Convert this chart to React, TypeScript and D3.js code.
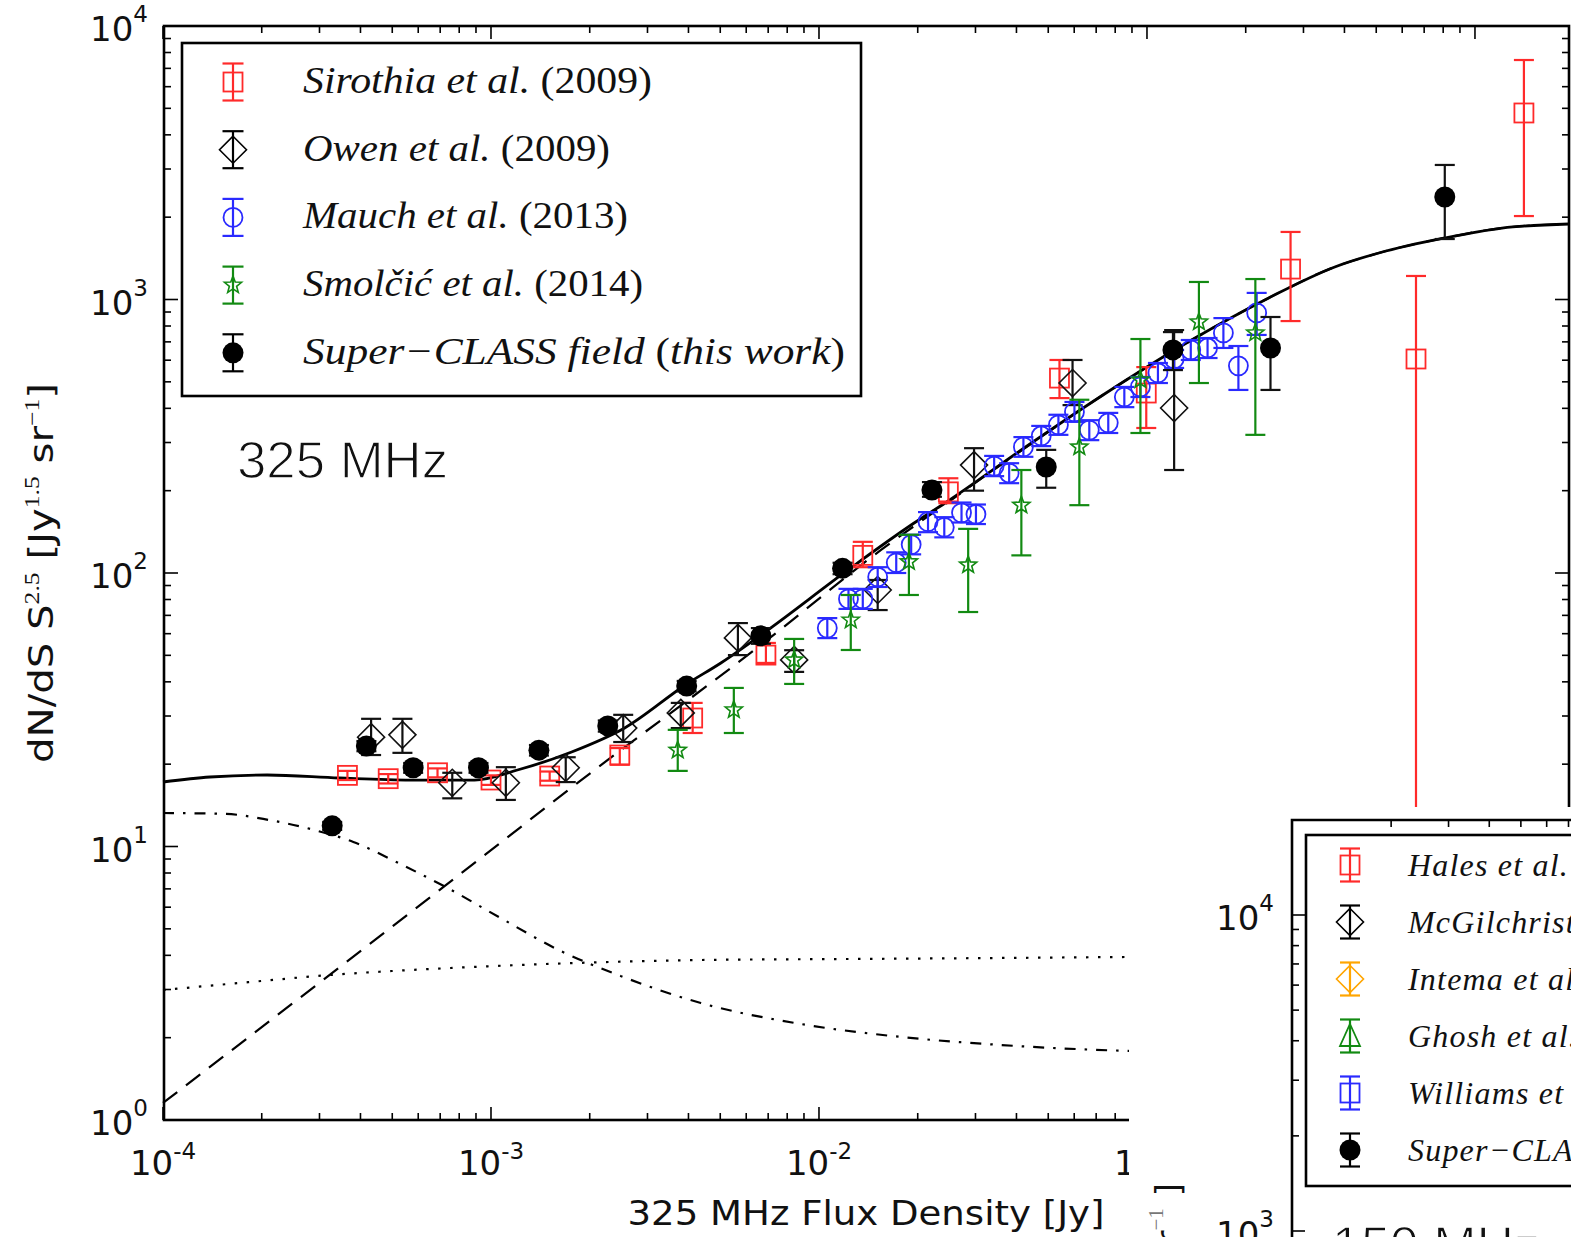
import React from 'react';
import * as d3 from 'd3';

const W = 1571;
const H = 1237;

// ---------- Data (325 MHz source counts) ----------
const sirothiaS = [3.65e-4, 4.86e-4, 6.87e-4, 1.0e-3, 1.51e-3, 2.47e-3, 4.12e-3, 6.89e-3, 1.36e-2, 2.48e-2, 5.41e-2, 9.95e-2, 0.274, 0.661, 1.41];
const sirothiaV = [18.2, 17.7, 18.6, 17.5, 18.1, 21.6, 29.5, 50.1, 116, 198, 516, 455, 1292, 606, 4808];
const sirothiaHi = [18.9, 18.4, 19.3, 18.2, 18.8, 22.9, 33.5, 55.5, 130, 222, 601, 566, 1766, 1219, 7510];
const sirothiaLo = [17.5, 17.0, 17.9, 16.8, 17.4, 19.9, 26.0, 46.9, 105, 180, 436, 339, 834, 2, 2019];

const owenS = [4.31e-4, 5.37e-4, 7.62e-4, 1.11e-3, 1.69e-3, 2.53e-3, 3.79e-3, 5.66e-3, 8.40e-3, 1.51e-2, 2.97e-2, 5.93e-2, 0.121];
const owenV = [25.1, 25.6, 17.1, 17.1, 19.4, 27.1, 30.8, 57.9, 48.1, 86.7, 248, 495, 401];
const owenHi = [29.3, 29.3, 18.6, 19.5, 21.2, 30.3, 33.5, 65.6, 52.2, 94.3, 286, 601, 773];
const owenLo = [21.6, 22.0, 15.0, 14.8, 17.2, 24.1, 27.1, 50.1, 43.5, 73.2, 200, 411, 238];

const mauchS = [1.06e-2, 1.23e-2, 1.36e-2, 1.51e-2, 1.72e-2, 1.91e-2, 2.15e-2, 2.41e-2, 2.72e-2, 3.01e-2, 3.42e-2, 3.80e-2, 4.20e-2, 4.76e-2, 5.37e-2, 6.01e-2, 6.67e-2, 7.62e-2, 8.53e-2, 9.55e-2, 0.108, 0.121, 0.136, 0.153, 0.171, 0.190, 0.216];
const mauchV = [62.9, 80.4, 80.4, 96.7, 109, 127, 154, 147, 166, 164, 246, 232, 289, 317, 348, 388, 333, 354, 440, 479, 539, 606, 654, 665, 755, 572, 893];
const mauchHi = [68.4, 87.5, 87.5, 105, 119, 138, 167, 160, 181, 178, 268, 252, 314, 345, 379, 422, 362, 385, 479, 521, 586, 654, 711, 723, 855, 676, 1057];
const mauchLo = [57.8, 73.9, 73.9, 88.9, 100, 117, 141, 135, 153, 151, 226, 213, 266, 291, 320, 357, 306, 325, 404, 440, 495, 562, 601, 611, 665, 467, 742];

const smolcicS = [3.71e-3, 5.50e-3, 8.40e-3, 1.25e-2, 1.88e-2, 2.85e-2, 4.14e-2, 6.22e-2, 9.55e-2, 0.144, 0.214];
const smolcicV = [22.5, 31.6, 48.1, 67.3, 110, 107, 177, 289, 508, 828, 755];
const smolcicHi = [26.7, 38.0, 57.4, 83.1, 138, 145, 238, 430, 717, 1159, 1188];
const smolcicLo = [18.9, 26.0, 39.3, 52.3, 83.1, 72.0, 116, 177, 325, 495, 320];

const superS = [3.28e-4, 4.17e-4, 5.79e-4, 9.16e-4, 1.40e-3, 2.27e-3, 3.95e-3, 6.65e-3, 1.18e-2, 2.21e-2, 4.93e-2, 0.120, 0.238, 0.809];
const superV = [11.9, 23.3, 19.4, 19.4, 22.5, 27.6, 38.6, 58.9, 104, 201, 244, 654, 665, 2371];
const superHi = [12.3, 24.3, 20.2, 20.2, 23.5, 28.9, 40.3, 62.9, 109, 215, 282, 760, 863, 3104];
const superLo = [11.5, 22.3, 18.6, 18.6, 21.5, 26.3, 36.9, 55.1, 99, 190, 205, 552, 467, 1664];

// model curves
const totalS = [1e-4, 1.391e-4, 2.078e-4, 3.446e-4, 5.679e-4, 8.905e-4, 1.204e-3, 1.761e-3, 2.556e-3, 3.953e-3, 5.022e-3, 6.986e-3, 1.226e-2, 1.950e-2, 2.477e-2, 4.137e-2, 7.263e-2, 0.1368, 0.2350, 0.3737, 0.5091, 0.8099, 1.209, 1.935];
const totalV = [17.21, 17.95, 18.26, 17.80, 17.50, 17.50, 19.04, 22.16, 27.13, 39.28, 46.88, 61.88, 102.6, 152.3, 183.4, 281.7, 443.8, 711.0, 1013, 1315, 1479, 1679, 1825, 1888];

const agnS = [1e-4, 7.366e-4, 2.012e-3, 6.651e-3, 1.546e-2, 2.529e-2, 4.137e-2, 7.263e-2, 0.1368, 0.2350, 0.3737, 0.5091, 0.8099, 1.209, 1.935];
const agnV = [1.154, 7.293, 18.57, 54.54, 121.4, 184.9, 280.5, 443.8, 711.0, 1013, 1315, 1479, 1679, 1825, 1888];

const sfS = [1e-4, 1.558e-4, 2.107e-4, 2.811e-4, 3.804e-4, 5.293e-4, 7.366e-4, 1.069e-3, 1.631e-3, 2.485e-3, 4.362e-3, 8.810e-3, 1.780e-2, 3.594e-2, 8.968e-2, 1.935];
const sfV = [13.26, 13.15, 12.50, 11.59, 10.39, 8.630, 7.053, 5.479, 4.149, 3.362, 2.678, 2.244, 2.012, 1.880, 1.788, 1.70];

const fourthS = [1e-4, 1.843e-4, 3.234e-4, 7.522e-4, 1.811e-3, 4.362e-3, 1.252e-2, 3.594e-2, 8.968e-2, 1.935];
const fourthV = [2.987, 3.196, 3.390, 3.595, 3.750, 3.846, 3.879, 3.912, 3.945, 3.98];

const legendMain = [
  { name: 'Sirothia et al. ', year: '(2009)', color: '#ff2a2a', kind: 'square', width: 349 },
  { name: 'Owen et al. ', year: '(2009)', color: '#000000', kind: 'diamond', width: 307 },
  { name: 'Mauch et al. ', year: '(2013)', color: '#2a2aff', kind: 'circle', width: 325 },
  { name: 'Smolčić et al. ', year: '(2014)', color: '#128a12', kind: 'star', width: 340 },
  { name: 'Super−CLASS field ', year: 'this work', color: '#000000', kind: 'dot', width: 542 },
];

const legend150 = [
  { name: 'Hales et al.', color: '#ff2a2a', kind: 'square' },
  { name: 'McGilchrist et al.', color: '#000000', kind: 'diamond' },
  { name: 'Intema et al.', color: '#ffa500', kind: 'diamond' },
  { name: 'Ghosh et al.', color: '#128a12', kind: 'triangle' },
  { name: 'Williams et al.', color: '#2a2aff', kind: 'square' },
  { name: 'Super−CLASS field (this work)', color: '#000000', kind: 'dot' },
];

const yTickPowers = [0, 1, 2, 3, 4];
const xTickPowers = [-4, -3, -2, -1, 0];

// ---------- Scales ----------
const x = d3.scaleLog().domain([1e-4, 1.935]).range([163, 1569]);
const y = d3.scaleLog().domain([1, 1e4]).range([1120, 26]);

const x2 = d3.scaleLog().domain([1e-4, 1e-3]).range([1293, 1619]);
const y2 = d3.scaleLog().domain([1e3, 1e4]).range([1231, 915]);

const SANS = 'DejaVu Sans, sans-serif';
const SERIF = 'Liberation Serif, DejaVu Serif, serif';

function starPath(cx: number, cy: number, R: number, r: number) {
  const pts: string[] = [];
  for (let i = 0; i < 10; i++) {
    const a = -Math.PI / 2 + (i * Math.PI) / 5;
    const rr = i % 2 === 0 ? R : r;
    pts.push(`${cx + rr * Math.cos(a)},${cy + rr * Math.sin(a)}`);
  }
  return 'M' + pts.join('L') + 'Z';
}

function Marker({ kind, cx, cy, color }: { kind: string; cx: number; cy: number; color: string }) {
  const sw = 1.8;
  if (kind === 'square')
    return <rect x={cx - 9.5} y={cy - 9.5} width={19} height={19} fill="none" stroke={color} strokeWidth={sw} />;
  if (kind === 'diamond')
    return <path d={`M${cx},${cy - 13.5}L${cx + 13.5},${cy}L${cx},${cy + 13.5}L${cx - 13.5},${cy}Z`} fill="none" stroke={color} strokeWidth={1.6} />;
  if (kind === 'circle') return <circle cx={cx} cy={cy} r={9.5} fill="none" stroke={color} strokeWidth={sw} />;
  if (kind === 'star') return <path d={starPath(cx, cy, 9, 3.8)} fill="none" stroke={color} strokeWidth={1.6} />;
  if (kind === 'triangle')
    return <path d={`M${cx},${cy - 12}L${cx + 10},${cy + 10}L${cx - 10},${cy + 10}Z`} fill="none" stroke={color} strokeWidth={sw} />;
  return <circle cx={cx} cy={cy} r={10.5} fill="#000" />;
}

function ErrBar({ cx, y1, y2: yb, color, cap = 10 }: { cx: number; y1: number; y2: number; color: string; cap?: number }) {
  return (
    <g stroke={color} strokeWidth={2.2}>
      <line x1={cx} x2={cx} y1={y1} y2={yb} />
      <line x1={cx - cap} x2={cx + cap} y1={y1} y2={y1} />
      <line x1={cx - cap} x2={cx + cap} y1={yb} y2={yb} />
    </g>
  );
}

function Series({ S, V, Hi, Lo, kind, color }: any) {
  return (
    <g>
      {S.map((s: number, i: number) => (
        <ErrBar key={'e' + i} cx={x(s)} y1={y(Hi[i])} y2={y(Lo[i])} color={color} />
      ))}
      {S.map((s: number, i: number) => (
        <Marker key={'m' + i} kind={kind} cx={x(s)} cy={y(V[i])} color={color} />
      ))}
    </g>
  );
}

function curve(S: number[], V: number[]) {
  const pts = S.map((s, i) => [x(s), y(V[i])] as [number, number]);
  return d3.line().curve(d3.curveMonotoneX)(pts) || '';
}

export default function App() {
  const minorX: number[] = [];
  for (let p = -4; p <= 0; p++) for (let k = 1; k <= 9; k++) {
    const v = k * Math.pow(10, p);
    if (v <= 1.935) minorX.push(v);
  }
  const minorY: number[] = [];
  for (let p = 0; p <= 3; p++) for (let k = 1; k <= 9; k++) minorY.push(k * Math.pow(10, p));
  minorY.push(1e4);

  const isMajor = (v: number) => Math.abs(Math.log10(v) - Math.round(Math.log10(v))) < 1e-6;

  const ticksY2: number[] = [];
  for (let p = 3; p <= 4; p++) for (let k = 1; k <= 9; k++) {
    const v = k * Math.pow(10, p);
    if (y2(v) >= 822) ticksY2.push(v);
  }
  const ticksX2: number[] = [];
  for (let k = 2; k <= 9; k++) {
    const v = k * 1e-4;
    if (x2(v) < W) ticksX2.push(v);
  }

  return (
    <svg width={W} height={H} style={{ position: 'absolute', left: 0, top: 0, background: '#fff' }} xmlns="http://www.w3.org/2000/svg">
      <rect x={0} y={0} width={W} height={H} fill="#fff" />

      {/* ---- model curves ---- */}
      <g fill="none" stroke="#000">
        <path d={curve(fourthS, fourthV)} strokeWidth={2.2} strokeDasharray="2.5,9.5" />
        <path d={curve(sfS, sfV)} strokeWidth={2.2} strokeDasharray="11,9,2.5,9" />
        <path d={curve(agnS, agnV)} strokeWidth={2.2} strokeDasharray="18,11" />
        <path d={curve(totalS, totalV)} strokeWidth={2.8} />
      </g>

      {/* ---- data ---- */}
      <Series S={sirothiaS} V={sirothiaV} Hi={sirothiaHi} Lo={sirothiaLo} kind="square" color="#ff2a2a" />
      <Series S={owenS} V={owenV} Hi={owenHi} Lo={owenLo} kind="diamond" color="#111" />
      <Series S={mauchS} V={mauchV} Hi={mauchHi} Lo={mauchLo} kind="circle" color="#2a2aff" />
      <Series S={smolcicS} V={smolcicV} Hi={smolcicHi} Lo={smolcicLo} kind="star" color="#128a12" />
      <Series S={superS} V={superV} Hi={superHi} Lo={superLo} kind="dot" color="#111" />

      {/* ---- axes frame ---- */}
      <g stroke="#000" strokeWidth={1.6}>
        {minorX.map((v, i) => {
          const L = isMajor(v) ? 13 : 7;
          return (
            <g key={'tx' + i}>
              <line x1={x(v)} x2={x(v)} y1={26} y2={26 + L} />
              <line x1={x(v)} x2={x(v)} y1={1120} y2={1120 - L} />
            </g>
          );
        })}
        {minorY.map((v, i) => {
          const L = isMajor(v) ? 14 : 7;
          return (
            <g key={'ty' + i}>
              <line x1={164} x2={164 + L} y1={y(v)} y2={y(v)} />
              <line x1={1569} x2={1569 - L} y1={y(v)} y2={y(v)} />
            </g>
          );
        })}
      </g>
      <rect x={164} y={26} width={1405} height={1094} fill="none" stroke="#000" strokeWidth={2.6} />

      {/* tick labels */}
      <g fontFamily={SANS} fontSize={34} fill="#111">
        {yTickPowers.map((p) => (
          <text key={'yl' + p} x={148} y={y(Math.pow(10, p)) + 15} textAnchor="end">
            10<tspan fontSize={23} dy={-19}>{String(p)}</tspan>
          </text>
        ))}
        {xTickPowers.map((p) => (
          <text key={'xl' + p} x={x(Math.pow(10, p))} y={1175} textAnchor="middle">
            10<tspan fontSize={23} dy={-16}>{String(p)}</tspan>
          </text>
        ))}
      </g>

      {/* axis labels */}
      <text x={866} y={1225} textAnchor="middle" fontFamily={SANS} fontSize={34} fill="#111" textLength={477} lengthAdjust="spacingAndGlyphs">
        325 MHz Flux Density [Jy]
      </text>
      <text transform="translate(53,573) rotate(-90)" textAnchor="middle" fontFamily={SANS} fontSize={33} fill="#111" textLength={380} lengthAdjust="spacingAndGlyphs">
        {'dN/dS S'}
        <tspan fontFamily={SERIF} fontSize={21} dy={-14}>2.5</tspan>
        <tspan dy={14}>{' [Jy'}</tspan>
        <tspan fontFamily={SERIF} fontSize={21} dy={-14}>1.5</tspan>
        <tspan dy={14}>{' sr'}</tspan>
        <tspan fontFamily={SERIF} fontSize={21} dy={-14}>−1</tspan>
        <tspan dy={14}>]</tspan>
      </text>

      <text x={237} y={478} fontFamily="Liberation Sans, Arial, sans-serif" fontSize={52} fill="#111" stroke="#fff" strokeWidth={1.3} textLength={211} lengthAdjust="spacingAndGlyphs">325 MHz</text>

      {/* main legend */}
      <rect x={182} y={43} width={679} height={353} fill="#fff" stroke="#000" strokeWidth={2.6} />
      {legendMain.map((d, i) => {
        const cy = 82 + i * 67.7;
        return (
          <g key={'lg' + i}>
            <ErrBar cx={233} y1={cy - 18.5} y2={cy + 18.5} color={d.color} cap={10.5} />
            <Marker kind={d.kind} cx={233} cy={cy} color={d.color} />
            {d.kind === 'dot' ? (
              <text x={303} y={cy + 11} fontFamily={SERIF} fontSize={38} fill="#111" textLength={d.width} lengthAdjust="spacingAndGlyphs">
                <tspan fontStyle="italic">{d.name}</tspan>
                <tspan>(</tspan>
                <tspan fontStyle="italic">{d.year}</tspan>
                <tspan>)</tspan>
              </text>
            ) : (
              <text x={303} y={cy + 11} fontFamily={SERIF} fontSize={38} fill="#111" textLength={d.width} lengthAdjust="spacingAndGlyphs">
                <tspan fontStyle="italic">{d.name}</tspan>
                <tspan>{d.year}</tspan>
              </text>
            )}
          </g>
        );
      })}

      {/* ---- overlaid 150 MHz panel ---- */}
      <rect x={1129} y={807} width={W - 1129} height={H - 807} fill="#fff" />
      <g stroke="#000" strokeWidth={1.6}>
        {ticksY2.map((v, i) => (
          <line key={'t2y' + i} x1={1292} x2={1292 + (isMajor(v) ? 13 : 7)} y1={y2(v)} y2={y2(v)} />
        ))}
        {ticksX2.map((v, i) => (
          <line key={'t2x' + i} x1={x2(v)} x2={x2(v)} y1={820} y2={827} />
        ))}
      </g>
      <path d={`M1292,${H + 5}L1292,820L${W + 5},820`} fill="none" stroke="#000" strokeWidth={2.6} />
      <g fontFamily={SANS} fontSize={34} fill="#111">
        {[3, 4].map((p) => (
          <text key={'y2l' + p} x={1274} y={y2(Math.pow(10, p)) + 15} textAnchor="end">
            10<tspan fontSize={23} dy={-19}>{String(p)}</tspan>
          </text>
        ))}
      </g>
      <text transform="translate(1180,1183) rotate(-90)" textAnchor="end" fontFamily={SANS} fontSize={34} fill="#111">
        {'dN/dS S'}
        <tspan fontFamily={SERIF} fontSize={21} dy={-17}>2.5</tspan>
        <tspan dy={17}>{' [Jy'}</tspan>
        <tspan fontFamily={SERIF} fontSize={21} dy={-17}>1.5</tspan>
        <tspan dy={17}>{' sr'}</tspan>
        <tspan fontFamily={SERIF} fontSize={21} dy={-17} fill="#777">−1</tspan>
        <tspan dy={17} dx={12}>]</tspan>
      </text>
      <text x={1332} y={1263} fontFamily="Liberation Sans, Arial, sans-serif" fontSize={52} fill="#111" stroke="#fff" strokeWidth={1.3}>150 MHz</text>

      <rect x={1306} y={835} width={400} height={351} fill="#fff" stroke="#000" strokeWidth={2.6} />
      {legend150.map((d, i) => {
        const cy = 865 + i * 57;
        return (
          <g key={'l2' + i}>
            <ErrBar cx={1350} y1={cy - 16.5} y2={cy + 16.5} color={d.color} cap={10} />
            <Marker kind={d.kind} cx={1350} cy={cy} color={d.color} />
            <text x={1408} y={cy + 11} fontFamily={SERIF} fontStyle="italic" fontSize={32} letterSpacing={1.2} fill="#111">
              {d.name}
            </text>
          </g>
        );
      })}
    </svg>
  );
}
